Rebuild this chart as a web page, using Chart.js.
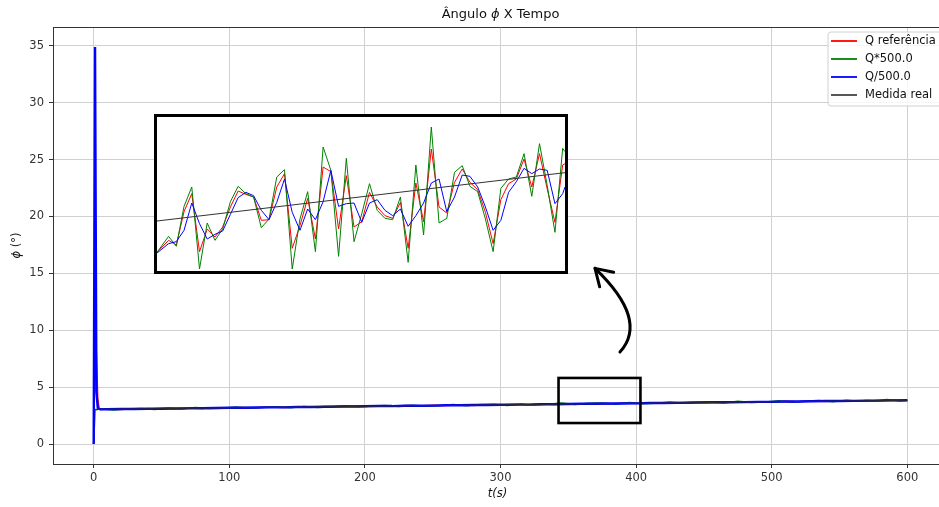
<!DOCTYPE html>
<html>
<head>
<meta charset="utf-8">
<script src="https://cdn.jsdelivr.net/npm/chart.js@4.4.0/dist/chart.umd.min.js"></script>
<style>
  html, body { margin: 0; padding: 0; background: #fff; }
  #wrap { position: relative; width: 939px; height: 507px; overflow: hidden; }
  #main { position: absolute; left: 0; top: 0; }
  #inset-box { position: absolute; left: 154px; top: 114px; width: 408px; height: 154px;
               border: 3px solid #000; background: #fff; }
  #inset { position: absolute; left: 0; top: 0; }
</style>
</head>
<body>
<div id="wrap">
  <canvas id="main" width="960" height="507"></canvas>
  <div id="inset-box"><canvas id="inset" width="408" height="154"></canvas></div>
</div>
<script>
/* ── Data: main plot ───────────────────────────────────────── */
const labels  = ['Q referência', 'Q*500.0', 'Q/500.0', 'Medida real'];
const colors  = ['#ff0000', '#008000', '#0000ff', '#2a2a2a'];
const xTicks  = [0, 100, 200, 300, 400, 500, 600];
const yTicks  = [0, 5, 10, 15, 20, 25, 30, 35];

const mainT = [0, 1, 2, 3, 4, 5, 10, 20, 30, 40, 50, 60, 70, 80, 90, 100,
  110, 120, 130, 140, 150, 160, 170, 180, 190, 200, 210, 220, 230, 240, 250,
  260, 270, 280, 290, 300, 310, 320, 330, 340, 350, 360, 370, 380, 390, 400,
  410, 420, 430, 440, 450, 460, 470, 480, 490, 500, 510, 520, 530, 540, 550,
  560, 570, 580, 590, 600];

const qRef = [0, 9.5, 8.0, 4.0, 3.15, 3.04, 3.09, 3.05, 3.11, 3.08, 3.14, 3.11,
  3.16, 3.13, 3.19, 3.16, 3.22, 3.19, 3.25, 3.21, 3.27, 3.24, 3.30, 3.27, 3.33,
  3.30, 3.36, 3.32, 3.38, 3.35, 3.41, 3.38, 3.44, 3.40, 3.46, 3.43, 3.49, 3.45,
  3.52, 3.48, 3.54, 3.51, 3.57, 3.53, 3.60, 3.56, 3.62, 3.59, 3.65, 3.61, 3.68,
  3.64, 3.70, 3.67, 3.73, 3.69, 3.76, 3.72, 3.78, 3.75, 3.81, 3.77, 3.84, 3.80,
  3.86, 3.83];

const qDiv = [0, 34.9, 4.6, 3.2, 3.08, 3.05, 3.06, 3.08, 3.08, 3.11, 3.10, 3.13,
  3.14, 3.15, 3.17, 3.19, 3.19, 3.21, 3.23, 3.23, 3.26, 3.26, 3.28, 3.30, 3.30,
  3.32, 3.34, 3.34, 3.37, 3.37, 3.38, 3.41, 3.41, 3.43, 3.44, 3.45, 3.47, 3.47,
  3.50, 3.50, 3.52, 3.54, 3.54, 3.56, 3.57, 3.58, 3.61, 3.61, 3.62, 3.65, 3.65,
  3.67, 3.68, 3.69, 3.71, 3.71, 3.74, 3.74, 3.76, 3.78, 3.78, 3.80, 3.82, 3.82,
  3.84, 3.85];

const mulT = [0, 1, 5, 15, 25, 35, 45, 55, 65, 75, 85, 95, 105, 115, 125, 135,
  145, 155, 165, 175, 185, 195, 205, 215, 225, 235, 245, 255, 265, 275, 285,
  295, 305, 315, 325, 335, 345, 355, 365, 375, 385, 395, 405, 415, 425, 435,
  445, 455, 465, 475, 485, 495, 505, 515, 525, 535, 545, 555, 565, 575, 585,
  595, 600];

const qMul = [0, 3.0, 3.11, 3.00, 3.10, 3.13, 3.04, 3.16, 3.09, 3.21, 3.12, 3.15,
  3.26, 3.14, 3.24, 3.28, 3.19, 3.31, 3.22, 3.25, 3.36, 3.27, 3.35, 3.39, 3.30,
  3.42, 3.33, 3.37, 3.48, 3.37, 3.47, 3.50, 3.40, 3.53, 3.44, 3.49, 3.60, 3.47,
  3.58, 3.62, 3.51, 3.65, 3.54, 3.58, 3.70, 3.58, 3.68, 3.72, 3.62, 3.76, 3.65,
  3.69, 3.80, 3.68, 3.79, 3.83, 3.72, 3.86, 3.76, 3.80, 3.91, 3.79, 3.86];

const realT = [0, 600];
const realV = [3.05, 3.85];

/* ── Data: zoomed inset ────────────────────────────────────── */
const insetT = [344.5, 346, 347, 348, 349, 350, 351, 352, 353, 354, 355, 356,
  357, 358, 359, 360, 361, 362, 363, 364, 365, 366, 367, 368, 369, 370, 371,
  372, 373, 374, 375, 376, 377, 378, 379, 380, 381, 382, 383, 384, 385, 386,
  387, 388, 389, 390, 391, 392, 393, 394, 395, 396, 397, 397.3];

const insetRef = [3.487, 3.505, 3.498, 3.548, 3.575, 3.488, 3.522, 3.510, 3.525,
  3.555, 3.579, 3.574, 3.570, 3.535, 3.536, 3.585, 3.605, 3.493, 3.527, 3.568,
  3.507, 3.615, 3.608, 3.522, 3.602, 3.525, 3.533, 3.577, 3.555, 3.542, 3.538,
  3.562, 3.493, 3.591, 3.533, 3.642, 3.555, 3.546, 3.592, 3.612, 3.592, 3.581,
  3.547, 3.500, 3.566, 3.590, 3.597, 3.627, 3.585, 3.635, 3.582, 3.532, 3.618,
  3.620];

const insetMul = [3.487, 3.511, 3.496, 3.556, 3.585, 3.462, 3.531, 3.505, 3.522,
  3.563, 3.586, 3.575, 3.570, 3.524, 3.537, 3.600, 3.611, 3.462, 3.537, 3.578,
  3.488, 3.645, 3.610, 3.481, 3.628, 3.503, 3.545, 3.590, 3.550, 3.538, 3.536,
  3.570, 3.472, 3.618, 3.513, 3.675, 3.531, 3.538, 3.607, 3.617, 3.586, 3.578,
  3.537, 3.488, 3.583, 3.597, 3.600, 3.635, 3.571, 3.650, 3.587, 3.517, 3.643,
  3.638];

const insetDiv = [3.486, 3.500, 3.503, 3.520, 3.561, 3.530, 3.507, 3.514, 3.519,
  3.544, 3.569, 3.577, 3.572, 3.550, 3.536, 3.562, 3.597, 3.547, 3.520, 3.552,
  3.536, 3.563, 3.610, 3.556, 3.560, 3.561, 3.532, 3.561, 3.566, 3.550, 3.542,
  3.552, 3.526, 3.542, 3.561, 3.591, 3.597, 3.548, 3.570, 3.603, 3.601, 3.585,
  3.555, 3.520, 3.535, 3.577, 3.593, 3.613, 3.605, 3.612, 3.610, 3.560, 3.575,
  3.585];

const insetRealT = [344.5, 397.3];
const insetRealV = [3.534, 3.6065];

/* ── Annotations (data units of the main axes) ─────────────── */
const zoomBox = { x0: 342.8, x1: 403.2, y0: 1.85, y1: 5.81 };
const arrow   = { tail: [388.1, 8.09], ctrl: [409.5, 10.9], tip: [369.7, 15.44] };

const FONT = 'DejaVu Sans';
const pts  = (xs, ys) => xs.map((x, i) => ({ x, y: ys[i] }));

function line(label, data, color, width, order) {
  return { label, data, borderColor: color, backgroundColor: color, borderWidth: width,
           pointRadius: 0, tension: 0, fill: false, order };
}

/* draw a run of text pieces with their own fonts, centred on x */
function drawRuns(ctx, runs, x, y) {
  let total = 0;
  runs.forEach(r => { ctx.font = r[1]; total += ctx.measureText(r[0]).width; });
  let cx = x - total / 2;
  ctx.textAlign = 'left';
  ctx.textBaseline = 'middle';
  runs.forEach(r => { ctx.font = r[1]; ctx.fillText(r[0], cx, y); cx += ctx.measureText(r[0]).width; });
}

/* ── Decorations: spine, zoom box, arrow, titles, legend ───── */
const decor = {
  id: 'decor',
  afterDatasetsDraw(chart) {
    const { ctx, chartArea: a, scales: { x, y } } = chart;
    ctx.save();
    ctx.strokeStyle = '#333';
    ctx.lineWidth = 1;
    ctx.beginPath();
    ctx.moveTo(a.left, a.top + 0.5);
    ctx.lineTo(a.right, a.top + 0.5);
    ctx.stroke();

    // zoom rectangle
    ctx.strokeStyle = '#000';
    ctx.lineWidth = 2.6;
    const bx0 = x.getPixelForValue(zoomBox.x0), bx1 = x.getPixelForValue(zoomBox.x1);
    const by0 = y.getPixelForValue(zoomBox.y1), by1 = y.getPixelForValue(zoomBox.y0);
    ctx.strokeRect(bx0, by0, bx1 - bx0, by1 - by0);

    // curved arrow
    const P = p => [x.getPixelForValue(p[0]), y.getPixelForValue(p[1])];
    const t0 = P(arrow.tail), c = P(arrow.ctrl), t1 = P(arrow.tip);
    ctx.lineWidth = 3;
    ctx.lineCap = 'round';
    ctx.lineJoin = 'round';
    ctx.beginPath();
    ctx.moveTo(t0[0], t0[1]);
    ctx.quadraticCurveTo(c[0], c[1], t1[0], t1[1]);
    ctx.stroke();
    const back = Math.atan2(c[1] - t1[1], c[0] - t1[0]);
    ctx.beginPath();
    [back - 0.56, back + 0.56].forEach(ang => {
      ctx.moveTo(t1[0], t1[1]);
      ctx.lineTo(t1[0] + 19 * Math.cos(ang), t1[1] + 19 * Math.sin(ang));
    });
    ctx.stroke();
    ctx.restore();
  },
  afterDraw(chart) {
    const { ctx, chartArea: a } = chart;
    ctx.save();
    ctx.fillStyle = '#111';
    const cx = (a.left + a.right) / 2;
    drawRuns(ctx, [['Ângulo ', `13px ${FONT}`], ['ϕ', `italic 13px ${FONT}`], [' X Tempo', `13px ${FONT}`]], cx, 15);
    drawRuns(ctx, [['t(s)', `italic 11.5px ${FONT}`]], cx - 3, 494);
    ctx.save();
    ctx.translate(17, (a.top + a.bottom) / 2);
    ctx.rotate(-Math.PI / 2);
    drawRuns(ctx, [['ϕ', `italic 11.5px ${FONT}`], [' (°)', `11.5px ${FONT}`]], 0, 0);
    ctx.restore();

    // legend
    const lx = 828, ly = 32, lw = 140, lh = 74, r = 3;
    ctx.beginPath();
    ctx.moveTo(lx + r, ly);
    ctx.lineTo(lx + lw - r, ly);
    ctx.arcTo(lx + lw, ly, lx + lw, ly + r, r);
    ctx.lineTo(lx + lw, ly + lh - r);
    ctx.arcTo(lx + lw, ly + lh, lx + lw - r, ly + lh, r);
    ctx.lineTo(lx + r, ly + lh);
    ctx.arcTo(lx, ly + lh, lx, ly + lh - r, r);
    ctx.lineTo(lx, ly + r);
    ctx.arcTo(lx, ly, lx + r, ly, r);
    ctx.closePath();
    ctx.fillStyle = 'rgba(255,255,255,0.8)';
    ctx.fill();
    ctx.strokeStyle = '#d0d0d0';
    ctx.lineWidth = 1;
    ctx.stroke();

    ctx.font = `11.5px ${FONT}`;
    ctx.textAlign = 'left';
    ctx.textBaseline = 'middle';
    chart.data.datasets.forEach((ds, i) => {
      const yy = 41 + i * 18;
      ctx.strokeStyle = i === 3 ? '#444' : ds.borderColor;
      ctx.lineWidth = 1.8;
      ctx.beginPath();
      ctx.moveTo(831, yy);
      ctx.lineTo(857, yy);
      ctx.stroke();
      ctx.fillStyle = '#111';
      ctx.fillText(ds.label, 865, yy);
    });
    ctx.restore();
  }
};

/* ── Main chart ────────────────────────────────────────────── */
new Chart(document.getElementById('main'), {
  type: 'line',
  data: {
    datasets: [
      line(labels[0], pts(mainT, qRef), colors[0], 1.5, 3),
      line(labels[1], pts(mulT, qMul), colors[1], 1.5, 2),
      line(labels[2], pts(mainT, qDiv), colors[2], 2.4, 1),
      line(labels[3], pts(realT, realV), colors[3], 1, 0)
    ]
  },
  options: {
    responsive: false,
    animation: false,
    events: [],
    layout: { padding: { left: 0, right: 12, top: 27, bottom: 0 } },
    plugins: { legend: { display: false }, tooltip: { enabled: false }, title: { display: false } },
    scales: {
      x: {
        type: 'linear', min: -30, max: 630,
        afterBuildTicks: s => { s.ticks = xTicks.map(v => ({ value: v })); },
        afterFit: s => { s.height = 43; },
        grid: { color: '#d0d0d0', lineWidth: 1, tickLength: 4, tickColor: '#333' },
        border: { display: true, color: '#333', width: 1 },
        ticks: { color: '#333', padding: 3, maxRotation: 0, font: { family: FONT, size: 11.5 } }
      },
      y: {
        type: 'linear', min: -1.75, max: 36.65,
        afterBuildTicks: s => { s.ticks = yTicks.map(v => ({ value: v })); },
        afterFit: s => { s.width = 53; },
        grid: { color: '#d0d0d0', lineWidth: 1, tickLength: 4, tickColor: '#333' },
        border: { display: true, color: '#333', width: 1 },
        ticks: { color: '#333', padding: 5, font: { family: FONT, size: 11.5 } }
      }
    }
  },
  plugins: [decor]
});

/* ── Inset chart ───────────────────────────────────────────── */
new Chart(document.getElementById('inset'), {
  type: 'line',
  data: {
    datasets: [
      line(labels[0], pts(insetT, insetRef), colors[0], 1, 3),
      line(labels[1], pts(insetT, insetMul), colors[1], 1, 2),
      line(labels[2], pts(insetT, insetDiv), colors[2], 1, 1),
      line(labels[3], pts(insetRealT, insetRealV), '#333333', 1, 0)
    ]
  },
  options: {
    responsive: false,
    animation: false,
    events: [],
    layout: { padding: 0 },
    plugins: { legend: { display: false }, tooltip: { enabled: false } },
    scales: {
      x: { type: 'linear', display: false, min: 344.5, max: 397.3 },
      y: { type: 'linear', display: false, min: 3.459, max: 3.690 }
    }
  }
});
</script>
</body>
</html>
